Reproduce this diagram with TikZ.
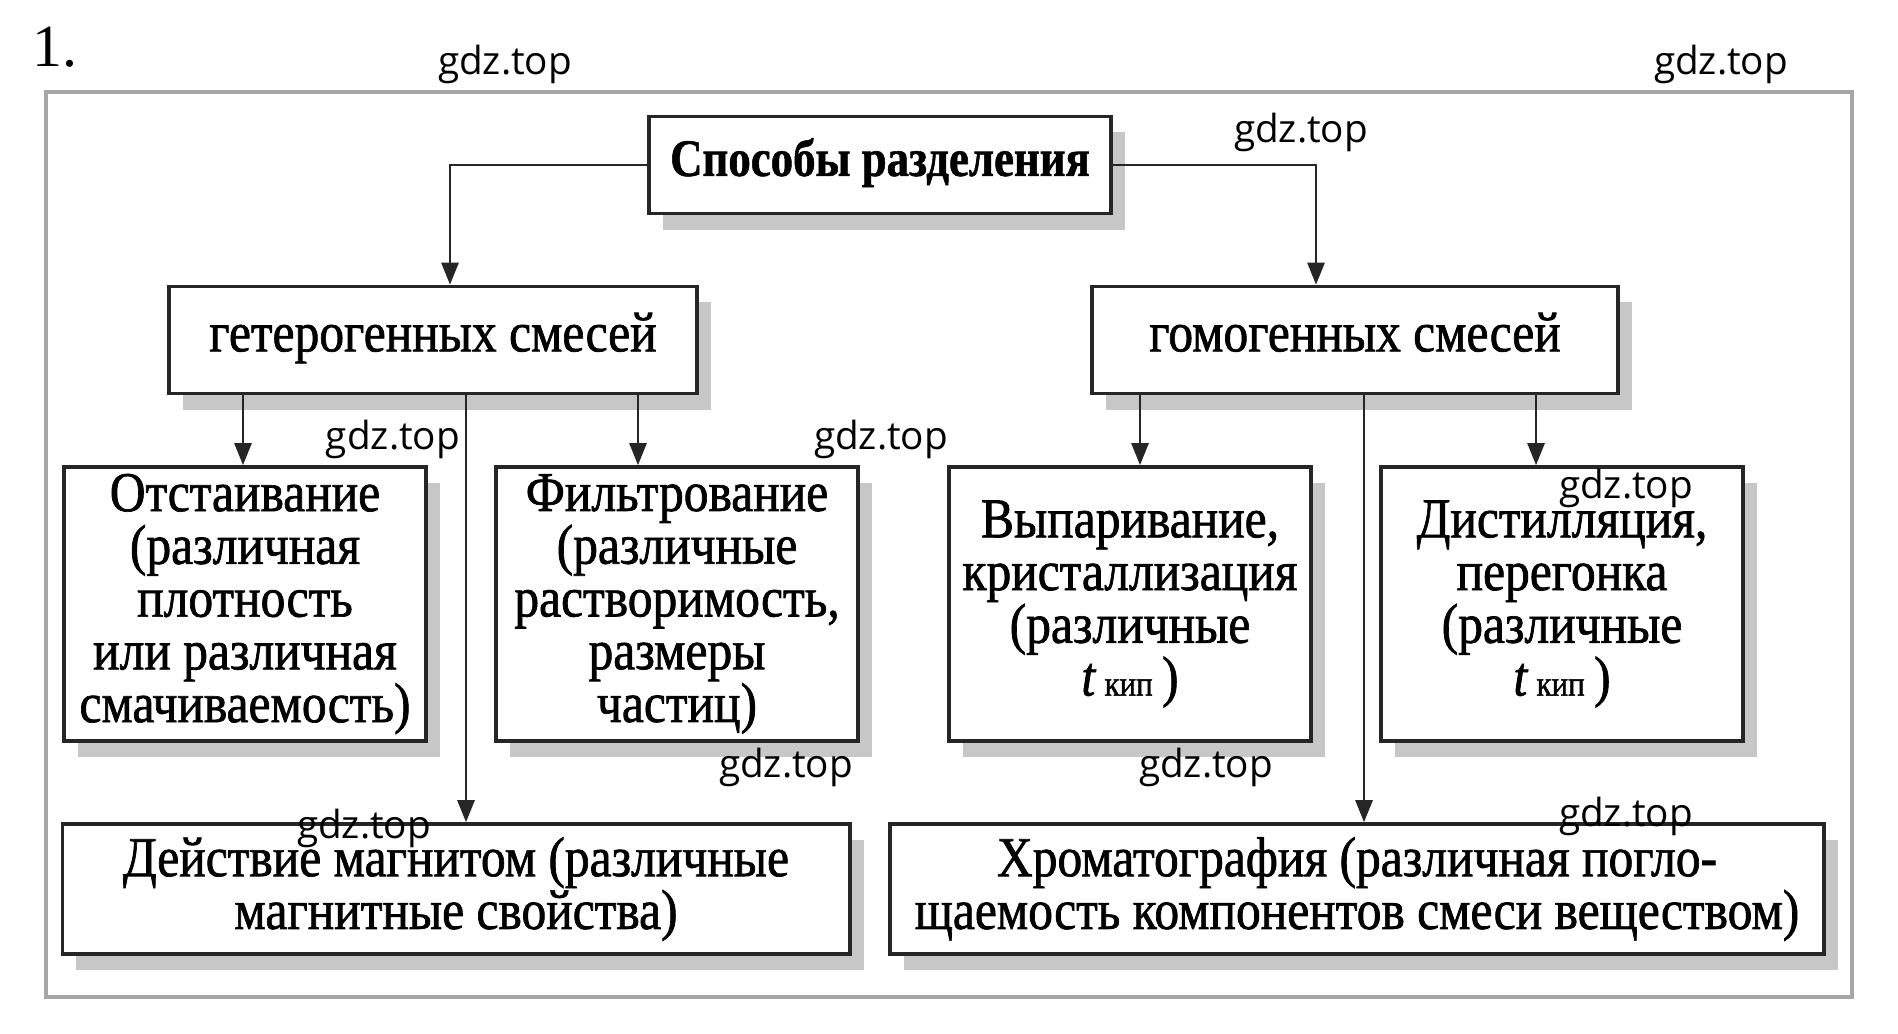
\documentclass[tikz,border=0pt]{standalone}
\usepackage{fontspec}
\setmainfont{Liberation Serif}[FakeStretch=0.88, FakeBold=1.2]
\newfontfamily\headfont{Liberation Serif}[FakeStretch=0.85, FakeBold=1]
\newfontfamily\numfont{Liberation Serif}
\newfontfamily\markfont{Open Sans}
\usetikzlibrary{arrows.meta,shadows,calc}

\newcommand{\tkip}{{\itshape t}\,{\fontsize{10}{10}\selectfont кип}\,}

\begin{document}
\begin{tikzpicture}[
          x=0.01cm, y=-0.01cm,
          box/.style={draw=black!85, line width=1pt, fill=white, rectangle, align=center, inner sep=0pt,
            font=\fontsize{16}{15}\selectfont,
            drop shadow={shadow xshift=0.14cm, shadow yshift=-0.16cm, fill=black!22, opacity=1}},
          head/.style={box, font=\headfont\bfseries\fontsize{15}{15}\selectfont},
          tall/.style={box, minimum width=3.62cm, minimum height=2.74cm},
          wide/.style={box, minimum height=1.30cm},
          wm/.style={font=\markfont\fontsize{11}{12}\selectfont, inner sep=0pt},
          arr/.style={draw=black!85, line width=0.75pt, -{Triangle[length=0.22cm, width=0.17cm]}}
        ]
        \useasboundingbox (0,0) rectangle (1898,1033);

        \node[font=\numfont\fontsize{17}{17}\selectfont, inner sep=0pt] (num) at (55,47) {1.};
        \draw[gray!70, line width=1.2pt] (46,92) rectangle (1852,997);

        \node[head, minimum width=4.62cm, minimum height=0.97cm] (root) at (880,165) {\strut Способы разделения};
        \node[box, minimum width=5.28cm, minimum height=1.07cm] (het) at (433,340) {\strut гетерогенных смесей};
        \node[box, minimum width=5.26cm, minimum height=1.07cm] (hom) at (1355,340) {\strut гомогенных смесей};

        \node[tall] (otst) at (245,604) {Отстаивание\\(различная\\плотность\\или различная\\смачиваемость)};
        \node[tall] (filt) at (677,604) {Фильтрование\\(различные\\растворимость,\\размеры\\частиц)};
        \node[tall] (vyp) at (1130,604) {Выпаривание,\\кристаллизация\\(различные\\\tkip)};
        \node[tall] (dist) at (1562,604) {Дистилляция,\\перегонка\\(различные\\\tkip)};

        \node[wide, minimum width=7.87cm] (magn) at (456,889) {Действие магнитом (различные\\магнитные свойства)};
        \node[wide, minimum width=9.33cm] (chrom) at (1357,889) {Хроматография (различная погло-\\щаемость компонентов смеси веществом)};

        \draw[arr] (root.west) -| ($(het.north)+(17,0)$);
        \draw[arr] (root.east) -| ($(hom.north)+(-39,0)$);

        \foreach \n/\s in {otst/-2, filt/-39, magn/10, vyp/10, chrom/7, dist/-26}
          \coordinate (\n in) at ($(\n.north)+(\s,0)$);
        \foreach \n/\p in {otst/het, filt/het, magn/het, vyp/hom, chrom/hom, dist/hom}
          \draw[arr] (\p.south -| \n in) -- (\n in);

        \foreach \x/\y [count=\i] in {505/64, 1721/64, 1301/132, 393/439, 881/439,
                                      1626/488, 786/767, 1206/767, 364/828, 1626/816}
          \node[wm] (mark\i) at (\x,\y) {gdz.top};
\end{tikzpicture}
\end{document}
